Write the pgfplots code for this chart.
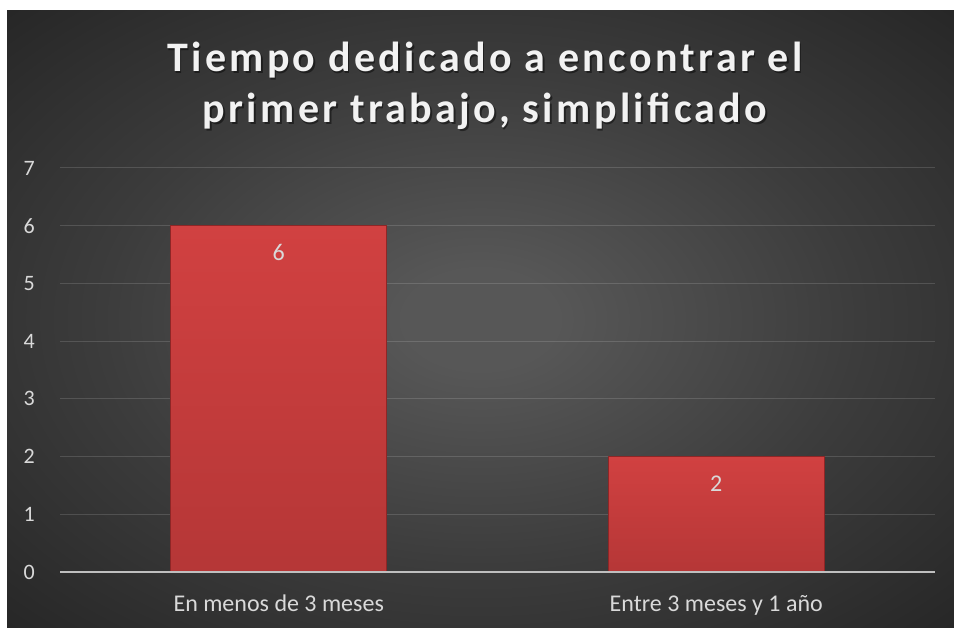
\documentclass[border=0pt]{standalone}
\usepackage{fontspec}
\setmainfont{Carlito}
\newfontfamily\titlefont[LetterSpace=8]{Carlito}
\usepackage{pgfplots}
\pgfplotsset{compat=1.18}
\definecolor{bgin}{HTML}{575757}
\definecolor{bgmid}{HTML}{3C3C3C}
\definecolor{bgout}{HTML}{262626}
\definecolor{titlec}{HTML}{F2F2F2}
\definecolor{labelc}{HTML}{D9D9D9}
\definecolor{bartop}{HTML}{DC4545}
\definecolor{barbot}{HTML}{A93232}
\definecolor{barhi}{HTML}{EE6A6A}
\definecolor{bardark}{HTML}{8E2626}
\definecolor{zeroline}{HTML}{BFBFBF}
\pgfdeclareradialshading{bgshade}{\pgfpoint{0bp}{0bp}}{color(0bp)=(bgin); color(4bp)=(bgin); color(20bp)=(bgmid); color(36bp)=(bgout); color(50bp)=(bgout)}
\pgfdeclareverticalshading{barshade}{100bp}{color(0bp)=(barbot); color(2bp)=(barbot!90!black); color(3bp)=(barbot); color(95bp)=(bartop); color(97bp)=(barhi); color(100bp)=(barhi)}
\begin{document}
\begin{tikzpicture}[x=1pt,y=1pt]
\fill[white] (0,0) rectangle (954,628);
\shade[shading=bgshade] (7,0) rectangle (954,617);
\node[anchor=base, text=black, opacity=0.45, font=\titlefont\bfseries\fontsize{42}{51}\selectfont] at (486.5,554.5) {Tiempo dedicado a encontrar el};
\node[anchor=base, text=black, opacity=0.45, font=\titlefont\bfseries\fontsize{42}{51}\selectfont] at (486.5,503.5) {primer trabajo, simplificado};
\node[anchor=base, text=titlec, font=\titlefont\bfseries\fontsize{42}{51}\selectfont] at (485,556) {Tiempo dedicado a encontrar el};
\node[anchor=base, text=titlec, font=\titlefont\bfseries\fontsize{42}{51}\selectfont] at (485,505) {primer trabajo, simplificado};
\begin{axis}[
  at={(60pt,56pt)}, anchor=south west,
  scale only axis, width=875pt, height=404pt,
  xmin=-0.5, xmax=1.5, ymin=0, ymax=7,
  axis line style={draw=none},
  xtick={0,1},
  xticklabels={En menos de 3 meses, Entre 3 meses y 1 año},
  ytick={0,1,2,3,4,5,6,7},
  major tick length=0pt,
  ymajorgrids,
  major grid style={draw=white, draw opacity=0.14, line width=1pt},
  /pgf/number format/assume math mode=true,
  yticklabel style={font=\fontsize{22}{26}\selectfont, text=labelc, anchor=east, inner sep=0pt, xshift=-25pt},
  xticklabel style={font=\fontsize{24}{28}\selectfont, text=labelc, anchor=base, inner sep=0pt, yshift=-40pt},
  clip=false,
]
\addplot[ybar, bar width=0.494, bar shift=0pt, draw=bardark, line width=0.8pt, shading=barshade,
  nodes near coords, nodes near coords style={font=\fontsize{24}{28}\selectfont, text=labelc, anchor=base, yshift=-35pt, inner sep=0pt}] coordinates {(0,6)};
\addplot[ybar, bar width=0.494, bar shift=0pt, draw=bardark, line width=0.8pt, shading=barshade,
  nodes near coords, nodes near coords style={font=\fontsize{24}{28}\selectfont, text=labelc, anchor=base, yshift=-35pt, inner sep=0pt}] coordinates {(1,2)};
\draw[zeroline, line width=2.5pt] (axis cs:-0.5,0) -- (axis cs:1.5,0);
\end{axis}
\end{tikzpicture}
\end{document}
